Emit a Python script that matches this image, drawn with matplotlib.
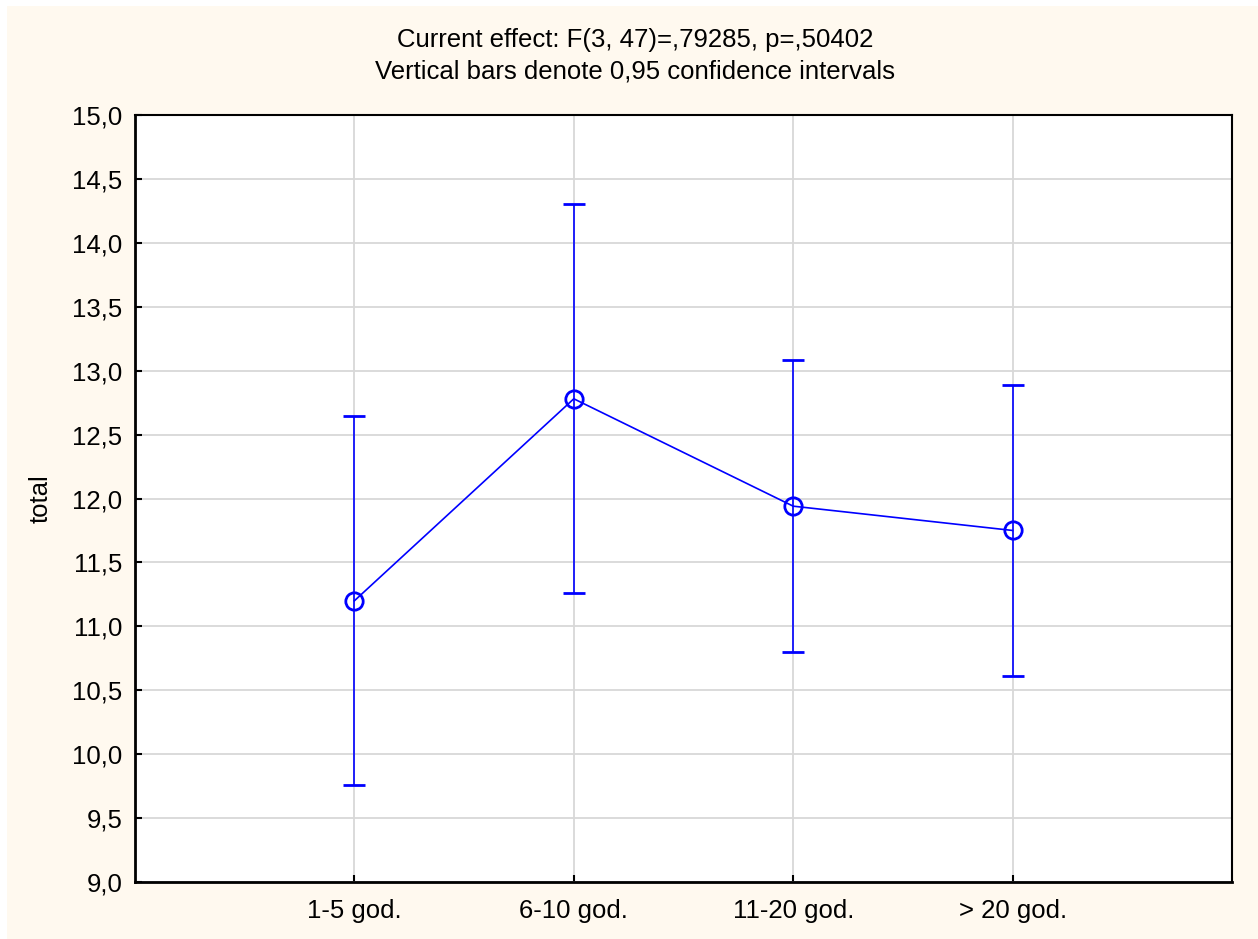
import matplotlib
matplotlib.use("Agg")
import matplotlib.pyplot as plt
from matplotlib.patches import Rectangle

categories = ["1-5 god.", "6-10 god.", "11-20 god.", "> 20 god."]
means = [11.20, 12.78, 11.94, 11.75]
upper = [12.645, 14.30, 13.08, 12.89]
lower = [9.76, 11.26, 10.80, 10.61]
yticks = [9.0, 9.5, 10.0, 10.5, 11.0, 11.5, 12.0, 12.5, 13.0, 13.5, 14.0, 14.5, 15.0]
title_lines = ["Current effect: F(3, 47)=,79285, p=,50402",
               "Vertical bars denote 0,95 confidence intervals"]

plt.rcParams['font.family'] = ['Liberation Sans', 'DejaVu Sans']

W, H = 1258, 939
CREAM = '#FFF9EF'
fig = plt.figure(figsize=(W / 100, H / 100), dpi=100, facecolor=CREAM)
# thin white strips along left and top edges
fig.patches.append(Rectangle((-0.01, 0), 0.01 + 7 / W, 1.01, transform=fig.transFigure,
                             facecolor='white', edgecolor='none', zorder=-10, clip_on=False))
fig.patches.append(Rectangle((-0.01, 1 - 6 / H), 1.02, 0.01 + 6 / H, transform=fig.transFigure,
                             facecolor='white', edgecolor='none', zorder=-10, clip_on=False))

ax = fig.add_axes([135 / W, 1 - 882 / H, (1232 - 135) / W, (882 - 115) / H])
ax.set_facecolor('white')

x = list(range(1, len(categories) + 1))
yerr = [[m - l for m, l in zip(means, lower)], [u - m for u, m in zip(upper, means)]]
ax.errorbar(x, means, yerr=yerr, color='#0000FF', lw=1.2, elinewidth=1.2, capsize=8,
            capthick=1.2, marker='o', markersize=12.5, markerfacecolor='none',
            markeredgewidth=2.0, markeredgecolor='#0000FF', zorder=3)

ax.set_xlim(0, 5)
ax.set_ylim(9, 15)
ax.set_xticks(x)
ax.set_xticklabels(categories)
ax.set_yticks(yticks)
ax.set_yticklabels([f"{v:.1f}".replace('.', ',') for v in yticks])
ax.grid(True, color='#D8D8D8', lw=1.3, zorder=0)
ax.set_axisbelow(True)
ax.tick_params(direction='in', length=5, width=1.5, labelsize=18.5, colors='black')
ax.tick_params(axis='x', pad=12)
ax.tick_params(axis='y', pad=9)
for s in ['left', 'bottom']:
    ax.spines[s].set_linewidth(2.0)
for s in ['top', 'right']:
    ax.spines[s].set_linewidth(1.5)
ax.set_ylabel('total', fontsize=18.5, labelpad=14)

fig.text(635 / W, 1 - 40 / H, title_lines[0], ha='center', va='center', fontsize=18.5)
fig.text(635 / W, 1 - 72 / H, title_lines[1], ha='center', va='center', fontsize=18.5)

fig.savefig('out.png', dpi=100, facecolor=fig.get_facecolor())
